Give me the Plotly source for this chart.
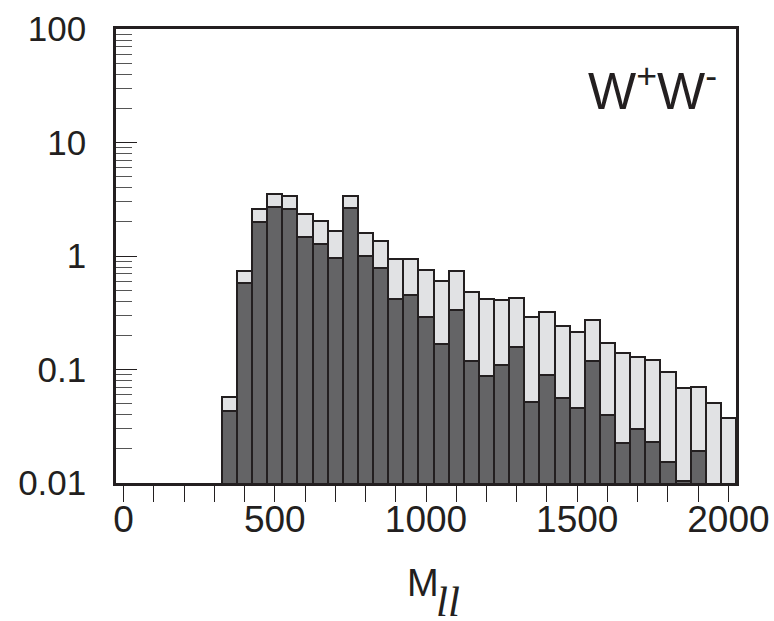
import plotly.graph_objects as go

# Bin centres (M_ll), bin width 50
mass_bins = [350, 400, 450, 500, 550, 600, 650, 700, 750, 800, 850, 900, 950, 1000,
             1050, 1100, 1150, 1200, 1250, 1300, 1350, 1400, 1450, 1500, 1550, 1600,
             1650, 1700, 1750, 1800, 1850, 1900, 1950, 2000]
bin_width = 50

# Total (light grey) histogram
total_counts = [0.057, 0.74, 2.58, 3.49, 3.40, 2.33, 2.05, 1.66, 3.38, 1.61, 1.35, 0.945,
                0.945, 0.746, 0.597, 0.741, 0.482, 0.418, 0.407, 0.424, 0.288, 0.319,
                0.240, 0.215, 0.272, 0.172, 0.140, 0.130, 0.121, 0.0949, 0.0682, 0.0706,
                0.0504, 0.0377]

# Signal (dark grey) histogram
signal_counts = [0.043, 0.574, 2.0, 2.69, 2.58, 1.48, 1.28, 0.96, 2.63, 1.00, 0.777, 0.421,
                 0.456, 0.291, 0.169, 0.337, 0.120, 0.0875, 0.109, 0.157, 0.0517, 0.0894,
                 0.0558, 0.046, 0.118, 0.0395, 0.0223, 0.0302, 0.0231, 0.0154, 0.0105, 0.019,
                 None, None]

x_tick_vals = [0, 500, 1000, 1500, 2000]
x_tick_text = ["0", "500", "1000", "1500", "2000"]
y_tick_vals = [0.01, 0.1, 1, 10, 100]
y_tick_text = ["0.01", "0.1", "1", "10", "100"]
y_minor_vals = [m * 10 ** e for e in range(-2, 2) for m in range(2, 10)]

INK = "#231f20"

fig = go.Figure()
fig.add_trace(go.Bar(x=mass_bins, y=total_counts, width=bin_width,
                     marker=dict(color="#e1e2e4", line=dict(color=INK, width=2)),
                     showlegend=False))
fig.add_trace(go.Bar(x=mass_bins, y=signal_counts, width=bin_width,
                     marker=dict(color="#646466", line=dict(color=INK, width=2)),
                     showlegend=False))

fig.update_layout(
    width=774, height=621,
    margin=dict(l=116, r=38, t=29, b=138),
    paper_bgcolor="white", plot_bgcolor="white",
    barmode="overlay", bargap=0,
    font=dict(family="Liberation Sans, Arial, sans-serif", color=INK),
    xaxis=dict(
        range=[-25, 2025], showgrid=False, zeroline=False, automargin=False,
        showline=True, linecolor=INK, linewidth=2.5, mirror=True,
        tickmode="array", tickvals=x_tick_vals, ticktext=x_tick_text,
        ticks="outside", ticklen=16, tickwidth=1.3, tickcolor=INK,
        tickfont=dict(size=37, color=INK), ticklabelstandoff=-14,
        minor=dict(dtick=100, tick0=0, ticks="outside", ticklen=16,
                   tickwidth=1.3, tickcolor=INK),
    ),
    yaxis=dict(
        type="log", range=[-2, 2], showgrid=False, zeroline=False, automargin=False,
        showline=True, linecolor=INK, linewidth=2.5, mirror=True,
        tickmode="array", tickvals=y_tick_vals, ticktext=y_tick_text,
        ticks="inside", ticklen=21, tickwidth=1.2, tickcolor=INK,
        tickfont=dict(size=35, color=INK), ticklabelstandoff=20,
        minor=dict(tickmode="array", tickvals=y_minor_vals, ticks="inside",
                   ticklen=16, tickwidth=1, tickcolor="#555555"),
    ),
    annotations=[
        dict(text="W<sup>+</sup>W<sup>-</sup>", xref="paper", yref="paper",
             x=0.866, y=0.87, xanchor="center", yanchor="middle",
             showarrow=False, font=dict(size=51, color=INK)),
        dict(text="M", xref="paper", yref="paper",
             x=(423 - 116) / 619.7, y=(483 - 583) / 454, xanchor="center", yanchor="middle",
             showarrow=False, font=dict(size=38, color=INK)),
        dict(text="<i>ll</i>", xref="paper", yref="paper",
             x=(448 - 116) / 619.7, y=(483 - 601) / 454, xanchor="center", yanchor="middle",
             height=34, valign="middle",
             showarrow=False, font=dict(size=43, color=INK,
                                        family="Liberation Serif, Times New Roman, serif")),
    ],
)

fig.write_html("out.html", config={"displayModeBar": False},
               post_script="document.body.style.margin='0';document.body.style.overflow='hidden';")
